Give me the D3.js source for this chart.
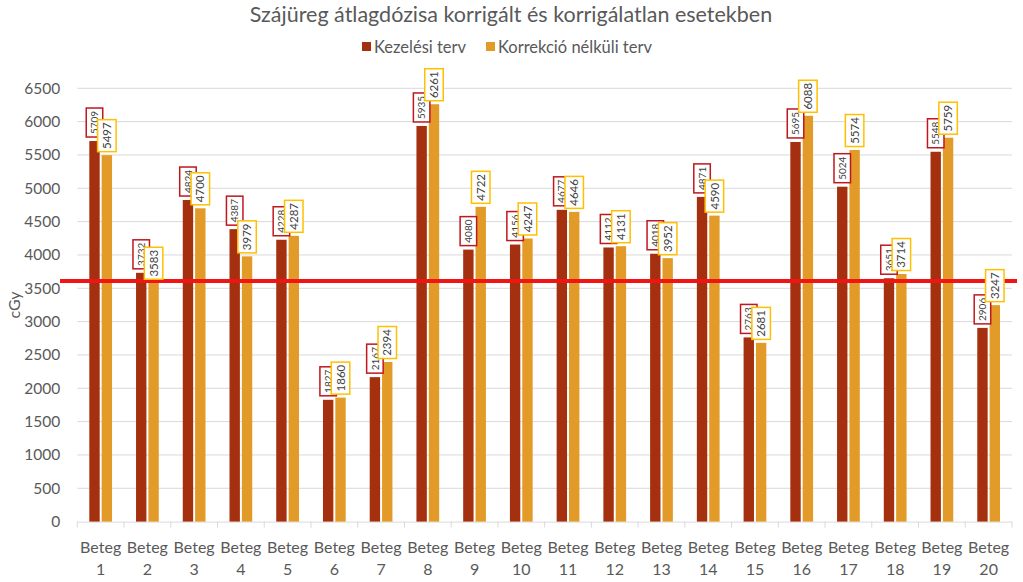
<!DOCTYPE html>
<html><head><meta charset="utf-8">
<script src="https://cdn.jsdelivr.net/npm/d3@7"></script>
<style>body{margin:0;background:#fff}svg{display:block}text{font-family:Lato,"Open Sans",sans-serif}</style>
</head><body>
<svg id="c" width="1023" height="582"></svg>
<script>
const categories = ["1","2","3","4","5","6","7","8","9","10","11","12","13","14","15","16","17","18","19","20"];
const seriesNames = ["Kezelési terv","Korrekció nélküli terv"];
const kezelesi = [5709,3732,4824,4387,4228,1827,2167,5935,4080,4156,4677,4112,4018,4871,2763,5695,5024,3651,5548,2906];
const korrekcioNelkul = [5497,3583,4700,3979,4287,1860,2394,6261,4722,4247,4646,4131,3952,4590,2681,6088,5574,3714,5759,3247];
const yTicks = [0,500,1000,1500,2000,2500,3000,3500,4000,4500,5000,5500,6000,6500];
const referenceValue = [3608];
const title = "Szájüreg átlagdózisa korrigált és korrigálatlan esetekben";
const yLabel = "cGy";
const catPrefix = "Beteg";

const colors = ["#A5300F","#E29A28"];
const borderColors = ["#C0171F","#FFC000"];

const svg = d3.select("#c");
const pLeft = 77.3, pRight = 1012, pTop = 88.3, pBottom = 521.6;

const x0 = d3.scaleBand().domain(categories).range([pLeft,pRight]).padding(0);
const x1 = d3.scaleBand().domain([0,1]).range([12, x0.bandwidth()-12]).paddingInner(0.16);
const y = d3.scaleLinear().domain([0,6500]).range([pBottom,pTop]);

// gridlines
svg.append("g").selectAll("line").data(yTicks.filter(d=>d>0)).join("line")
  .attr("x1",pLeft).attr("x2",pRight).attr("y1",d=>y(d)).attr("y2",d=>y(d))
  .attr("stroke","#d9d9d9").attr("stroke-width",1);

// y axis labels
const yAxis = d3.axisLeft(y).tickValues(yTicks).tickSize(0).tickPadding(17).tickFormat(d3.format("d"));
const yg = svg.append("g").attr("transform",`translate(${pLeft},0)`).call(yAxis);
yg.select(".domain").remove();
yg.selectAll("text").attr("font-size",15.5).attr("fill","#595959").style("font-family","Lato");

// x axis
const xAxis = d3.axisBottom(x0).tickSize(0).tickFormat(()=> "");
const xg = svg.append("g").attr("transform",`translate(0,${pBottom})`).call(xAxis);
xg.select(".domain").attr("stroke","#d9d9d9").attr("d",`M${pLeft},0.5H${pRight}`);
// boundary ticks
const bounds = categories.map(c=>x0(c)).concat([pRight]);
svg.append("g").selectAll("line").data(bounds).join("line")
  .attr("x1",d=>d).attr("x2",d=>d).attr("y1",pBottom).attr("y2",pBottom+6)
  .attr("stroke","#d9d9d9");
const lab = svg.append("g").selectAll("g").data(categories).join("g")
  .attr("transform",d=>`translate(${x0(d)+x0.bandwidth()/2},0)`);
lab.append("text").attr("y",553).attr("text-anchor","middle").attr("font-size",16).attr("fill","#595959").text(catPrefix);
lab.append("text").attr("y",575).attr("text-anchor","middle").attr("font-size",16).attr("fill","#595959").text(d=>d);

// bars
const series = [kezelesi, korrekcioNelkul];
series.forEach((vals,si)=>{
  svg.append("g").selectAll("rect").data(vals).join("rect")
    .attr("x",(d,i)=>x0(categories[i])+x1(si))
    .attr("width",x1.bandwidth())
    .attr("y",d=>y(d)).attr("height",d=>y(0)-y(d))
    .attr("fill",colors[si]);
});

// reference line
svg.append("g").selectAll("line").data(referenceValue).join("line")
  .attr("x1",60).attr("x2",1017).attr("y1",d=>y(d)).attr("y2",d=>y(d))
  .attr("stroke","#F01414").attr("stroke-width",4);

// data labels
const boxW = [16.5,18.5], boxH = [29,32], fs = [10,11.5], gap=[4,3.5];
series.forEach((vals,si)=>{
  const g = svg.append("g").selectAll("g").data(vals).join("g")
    .attr("transform",(d,i)=>`translate(${x0(categories[i])+x1(si)+x1.bandwidth()/2},${y(d)-gap[si]-boxH[si]/2})`);
  g.append("rect").attr("x",-boxW[si]/2).attr("y",-boxH[si]/2).attr("width",boxW[si]).attr("height",boxH[si])
    .attr("fill","#fff").attr("stroke",borderColors[si]).attr("stroke-width",1.5);
  g.append("text").attr("transform","rotate(-90)").attr("text-anchor","middle").attr("dy","0.36em")
    .attr("font-size",fs[si]).attr("fill","#404040").text(d=>d);
});

// title
svg.append("text").attr("x",511).attr("y",22).attr("text-anchor","middle").attr("font-size",21.5).attr("fill","#595959").text(title);

// legend
const leg = svg.append("g");
const lx = [362,486];
seriesNames.forEach((n,i)=>{
  leg.append("rect").attr("x",lx[i]).attr("y",42).attr("width",9).attr("height",9).attr("fill",colors[i]);
  leg.append("text").attr("x",lx[i]+12).attr("y",52.5).attr("font-size",16.5).attr("fill","#595959").text(n);
});

// y label
svg.append("text").attr("transform","translate(20,305) rotate(-90)").attr("text-anchor","middle").attr("font-size",16).attr("fill","#595959").text(yLabel);
</script>
</body></html>
